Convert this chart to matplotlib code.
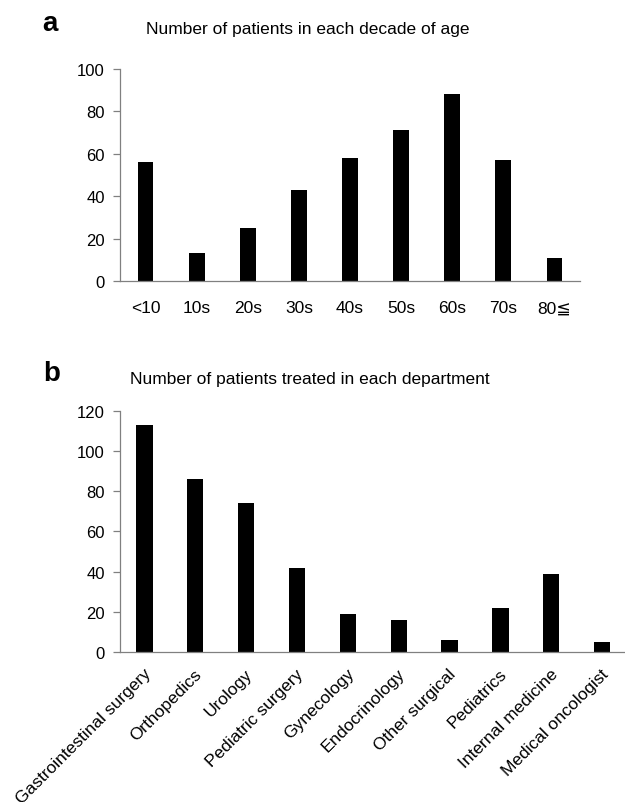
import numpy as np
import matplotlib.pyplot as plt
from matplotlib.transforms import ScaledTranslation

plt.rcParams['font.family'] = ['Liberation Sans', 'DejaVu Sans']

# Данные: возраст по декадам
age_groups = ["<10", "10s", "20s", "30s", "40s", "50s", "60s", "70s", "80\u2266"]
age_counts = [56, 13, 25, 43, 58, 71, 88, 57, 11]

# Данные: отделения
departments = ["Gastrointestinal surgery", "Orthopedics", "Urology", "Pediatric surgery",
               "Gynecology", "Endocrinology", "Other surgical", "Pediatrics",
               "Internal medicine", "Medical oncologist"]
dept_counts = [113, 86, 74, 42, 19, 16, 6, 22, 39, 5]

spine_col = "#808080"


def style_axes(ax):
    for side in ["top", "right"]:
        ax.spines[side].set_visible(False)
    for side in ["left", "bottom"]:
        ax.spines[side].set_color(spine_col)
        ax.spines[side].set_linewidth(0.9)
    ax.tick_params(axis="y", length=5, width=0.9, color=spine_col, pad=6, labelsize=12)
    ax.tick_params(axis="x", length=0, labelsize=12.5)


fig = plt.figure(figsize=(6.25, 8.03), dpi=100)

# Панель a
ax1 = fig.add_axes([0.192, 0.6488, 0.736, 0.264])
x1 = np.arange(len(age_groups))
ax1.bar(x1, age_counts, width=0.31, color="black")
ax1.set_xlim(-0.5, len(age_groups) - 0.5)
ax1.set_ylim(0, 100)
ax1.set_yticks(np.arange(0, 101, 20))
ax1.set_xticks(x1)
ax1.set_xticklabels(age_groups)
style_axes(ax1)
ax1.tick_params(axis="x", pad=14)

# Панель b
ax2 = fig.add_axes([0.192, 0.187, 0.812, 0.30])
x2 = np.arange(len(departments))
ax2.bar(x2, dept_counts, width=0.32, color="black")
ax2.set_xlim(-0.48, len(departments) - 0.5)
ax2.set_ylim(0, 120)
ax2.set_yticks(np.arange(0, 121, 20))
ax2.set_xticks(x2)
ax2.set_xticklabels(departments, rotation=45, ha="right", va="top", rotation_mode="anchor",
                    fontsize=13)
style_axes(ax2)
ax2.tick_params(axis="x", pad=10)
offset = ScaledTranslation(-1 / 72, 0, fig.dpi_scale_trans)
for lbl in ax2.get_xticklabels():
    lbl.set_transform(lbl.get_transform() + offset)

# Заголовки
fig.text(0.067, 0.962, "a", fontsize=20, fontweight="bold", ha="left", va="baseline")
fig.text(0.492, 0.958, "Number of patients in each decade of age", fontsize=12.5,
         ha="center", va="baseline")
fig.text(0.069, 0.525, "b", fontsize=20, fontweight="bold", ha="left", va="baseline")
fig.text(0.496, 0.522, "Number of patients treated in each department", fontsize=12.5,
         ha="center", va="baseline")

fig.savefig("out.png", dpi=100)
